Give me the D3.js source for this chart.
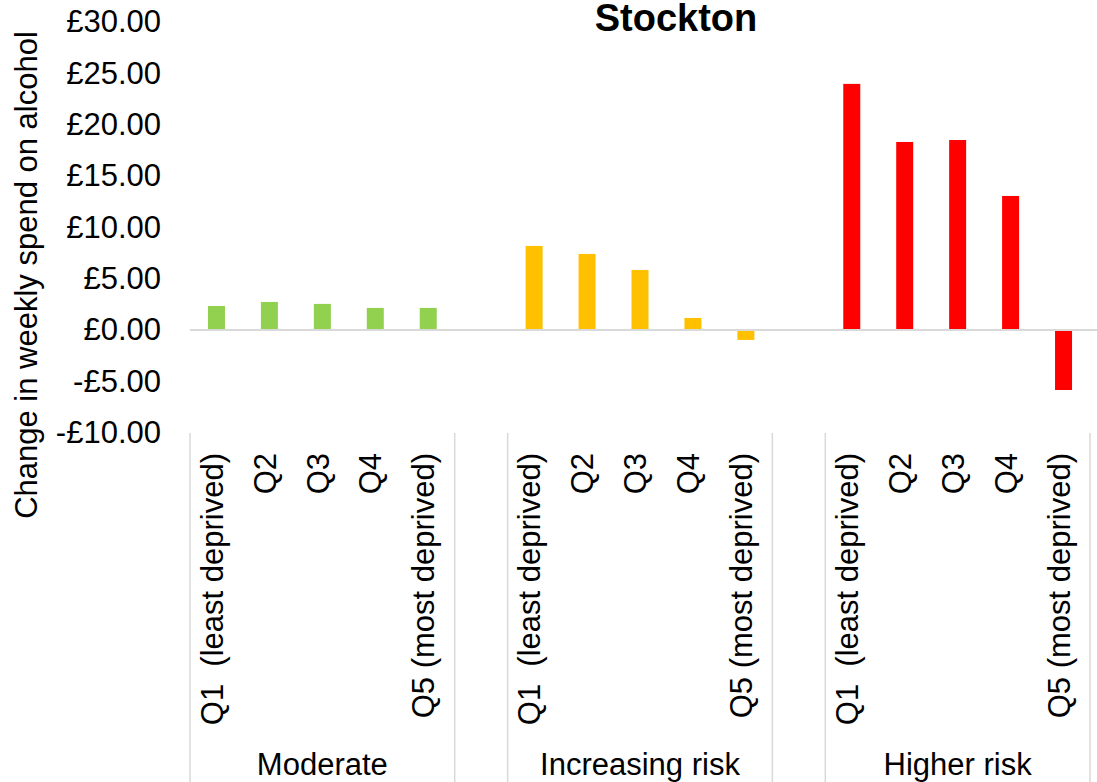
<!DOCTYPE html>
<html>
<head>
<meta charset="utf-8">
<script src="https://d3js.org/d3.v7.min.js"></script>
<style>
  body { margin: 0; background: #fff; }
  text { font-family: "Liberation Sans", Arial, sans-serif; fill: #000; }
</style>
</head>
<body>
<div id="chart"></div>
<script>

// data
var groups = ["Moderate", "Increasing risk", "Higher risk"];
var quintiles = ["Q1  (least deprived)", "Q2", "Q3", "Q4", "Q5 (most deprived)"];
var moderate = [2.33, 2.72, 2.53, 2.14, 2.14];
var increasingRisk = [8.18, 7.40, 5.84, 1.16, -0.98];
var higherRisk = [23.97, 18.31, 18.50, 13.05, -5.86];
var groupColors = ["#92d050", "#ffc000", "#ff0000"];
var yTicks = [-10, -5, 0, 5, 10, 15, 20, 25, 30];

var seriesValues = [moderate, increasingRisk, higherRisk];

var width = 1097, height = 782;

var svg = d3.select("#chart")
  .append("svg")
    .attr("width", width)
    .attr("height", height);

// category slots, with an empty slot between the groups
var slots = [];
var spans = [];
groups.forEach(function(g, gi) {
  var keys = [];
  quintiles.forEach(function(q, qi) {
    var key = gi + "-" + qi;
    keys.push(key);
    slots.push({key: key, label: q, value: seriesValues[gi][qi], color: groupColors[gi]});
  });
  spans.push({label: g, first: keys[0], last: keys[keys.length - 1]});
  if (gi < groups.length - 1) {
    var gap = "gap" + gi;
    slots.push({key: gap, label: "", value: null});
    spans.push({label: "", first: gap, last: gap});
  }
});

var x = d3.scaleBand()
  .domain(slots.map(function(d) { return d.key; }))
  .range([190, 1090]);

var y = d3.scaleLinear()
  .domain([-10, 30])
  .range([432.5, 22]);

var barW = 17;

// y axis labels
var yAxis = svg.append("g")
  .attr("transform", "translate(190,0)")
  .call(d3.axisLeft(y)
    .tickValues(yTicks)
    .tickSize(0)
    .tickPadding(29)
    .tickFormat(function(d) { return (d < 0 ? "-£" : "£") + Math.abs(d).toFixed(2); }));
yAxis.select(".domain").remove();
yAxis.selectAll("text")
  .style("font-family", "'Liberation Sans', Arial, sans-serif")
  .style("font-size", "31px")
  .attr("fill", "#000");

svg.append("text")
  .attr("transform", "translate(36.5,275) rotate(-90)")
  .attr("text-anchor", "middle")
  .style("font-size", "31px")
  .text("Change in weekly spend on alcohol");

svg.append("text")
  .attr("x", 676)
  .attr("y", 31)
  .attr("text-anchor", "middle")
  .style("font-size", "38px")
  .style("font-weight", "bold")
  .text("Stockton");

// bars
var data = slots.filter(function(d) { return d.value !== null; });
svg.selectAll("rect.bar")
  .data(data)
  .enter()
  .append("rect")
    .attr("class", "bar")
    .attr("x", function(d) { return x(d.key) + x.bandwidth() / 2 - barW / 2; })
    .attr("y", function(d) { return y(Math.max(0, d.value)); })
    .attr("width", barW)
    .attr("height", function(d) { return Math.abs(y(d.value) - y(0)); })
    .attr("fill", function(d) { return d.color; });

// zero line
svg.append("line")
  .attr("x1", 190).attr("x2", width)
  .attr("y1", y(0)).attr("y2", y(0))
  .attr("stroke", "#d9d9d9")
  .attr("stroke-width", 2);

// category labels
svg.selectAll("text.cat")
  .data(data)
  .enter()
  .append("text")
    .attr("class", "cat")
    .attr("transform", function(d) {
      return "translate(" + (x(d.key) + x.bandwidth() / 2) + ",453) rotate(-90)";
    })
    .attr("text-anchor", "end")
    .attr("dy", "0.2em")
    .style("font-size", "31px")
    .style("white-space", "pre")
    .text(function(d) { return d.label; });

// group separators
var bounds = [x(spans[0].first)];
spans.forEach(function(s) { bounds.push(x(s.last) + x.bandwidth()); });
svg.selectAll("line.sep")
  .data(bounds)
  .enter()
  .append("line")
    .attr("class", "sep")
    .attr("x1", function(d) { return d; })
    .attr("x2", function(d) { return d; })
    .attr("y1", 433)
    .attr("y2", height)
    .attr("stroke", "#d9d9d9")
    .attr("stroke-width", 1.5);

// group labels
svg.selectAll("text.grp")
  .data(spans.filter(function(s) { return s.label; }))
  .enter()
  .append("text")
    .attr("class", "grp")
    .attr("x", function(s) { return (x(s.first) + x(s.last) + x.bandwidth()) / 2; })
    .attr("y", 775)
    .attr("text-anchor", "middle")
    .style("font-size", "31px")
    .text(function(s) { return s.label; });

</script>
</body>
</html>
